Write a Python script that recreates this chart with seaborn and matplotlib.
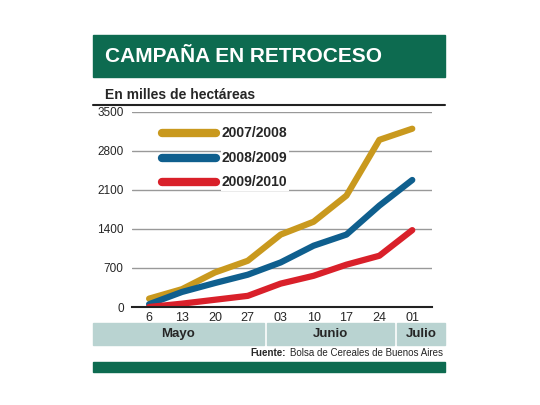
import matplotlib
matplotlib.use("Agg")
import matplotlib.pyplot as plt
import seaborn as sns
import pandas as pd
from matplotlib.patches import Rectangle

weeks = ["6", "13", "20", "27", "03", "10", "17", "24", "01"]
s0708 = [150, 320, 620, 830, 1300, 1530, 2000, 3000, 3200]
s0809 = [50, 270, 430, 580, 800, 1100, 1300, 1820, 2280]
s0910 = [0, 60, 130, 200, 420, 560, 760, 920, 1380]
series = ["2007/2008", "2008/2009", "2009/2010"]
colors = ["#c9991e", "#0f5f8e", "#d9202a"]
yticks = [0, 700, 1400, 2100, 2800, 3500]

sns.set_style("white")
plt.rcParams['font.family'] = ['Liberation Sans Narrow', 'Liberation Sans', 'DejaVu Sans']

df = pd.DataFrame({"x": list(range(len(weeks))) * 3,
                   "y": s0708 + s0809 + s0910,
                   "s": sum([[n] * len(weeks) for n in series], [])})

fig = plt.figure(figsize=(5.4, 4.05), dpi=100)
green = "#0d6b50"
fig.patches.append(Rectangle((93/540, 1-77/405), 352/540, 42/405, transform=fig.transFigure, color=green))
fig.text(105/540, 1-57/405, "CAMPAÑA EN RETROCESO", color="white", fontsize=15, fontweight="bold", va="center")
fig.text(105/540, 1-95/405, "En milles de hectáreas", fontsize=10, fontweight="bold", va="center")
fig.lines.append(plt.Line2D([93/540, 445/540], [1-105/405]*2, transform=fig.transFigure, color="#222", lw=1.5))

ax = fig.add_axes([132/540, 1-307/405, 300/540, 195/405])
sns.lineplot(data=df, x="x", y="y", hue="s", palette=colors, lw=4.5, ax=ax, legend=False, solid_capstyle="round")
ax.set_ylim(0, 3500)
ax.set_xlim(-0.52, 8.6)
ax.set_yticks(yticks)
ax.set_yticklabels([str(v) for v in yticks], fontsize=8.5)
ax.set_xticks(range(len(weeks)))
ax.set_xticklabels(weeks, fontsize=9)
ax.grid(axis="y", color="#999", lw=1)
for sp in ["top", "right", "left"]:
    ax.spines[sp].set_visible(False)
ax.spines["bottom"].set_color("#222")
ax.spines["bottom"].set_linewidth(1.5)
ax.tick_params(axis="x", length=4, direction="in", width=1.5)
ax.tick_params(axis="y", length=0, pad=6)
ax.set_xlabel("")
ax.set_ylabel("")
ax.set_axisbelow(True)

for i, (n, c) in enumerate(zip(series, colors)):
    y = 0.89 - i * 0.125
    ax.plot([0.1, 0.28], [y, y], transform=ax.transAxes, color=c, lw=6, solid_capstyle="round")
    ax.text(0.3, y, n, transform=ax.transAxes, fontsize=10, fontweight="bold", va="center",
            bbox=dict(facecolor="white", edgecolor="none", pad=1))

band = "#b9d3d1"
for x0, x1, lab in [(93, 264, "Mayo"), (267, 394, "Junio"), (397, 445, "Julio")]:
    fig.patches.append(Rectangle((x0/540, 1-345/405), (x1-x0)/540, 22/405, transform=fig.transFigure, color=band))
    fig.text((x0+x1)/2/540, 1-334/405, lab, fontsize=9.5, fontweight="bold", ha="center", va="center")
fig.text(443/540, 1-353/405, "Bolsa de Cereales de Buenos Aires", fontsize=7, ha="right", va="center")
fig.text(286/540, 1-353/405, "Fuente:", fontsize=7, fontweight="bold", ha="right", va="center")
fig.patches.append(Rectangle((93/540, 1-372/405), 352/540, 10/405, transform=fig.transFigure, color=green))

fig.savefig("out.png", dpi=100)
